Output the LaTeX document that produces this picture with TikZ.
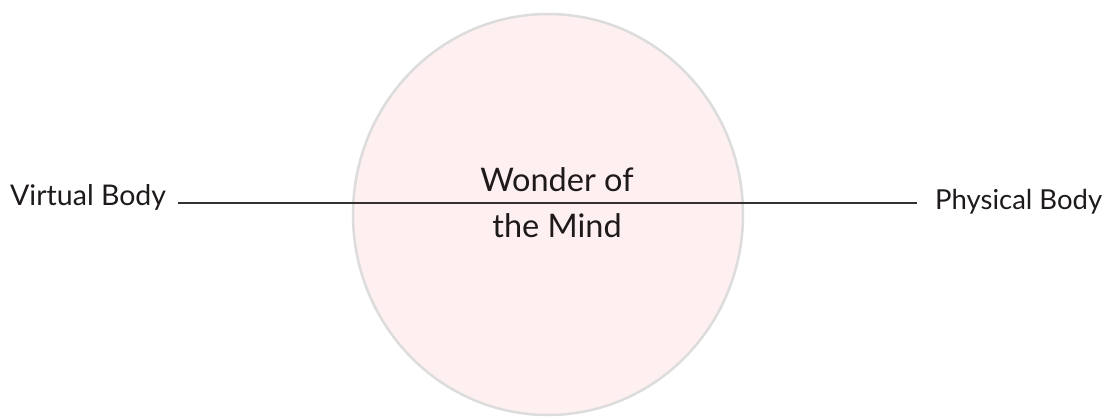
\documentclass[tikz,border=0pt]{standalone}
\usepackage{fontspec}
\setmainfont{Lato}
\usetikzlibrary{positioning,shapes.geometric}
\definecolor{mindpink}{HTML}{FEF0F0}
\definecolor{rimgray}{HTML}{DCDCDC}
\definecolor{inkdark}{HTML}{1E1A1A}
\tikzset{
  lbl/.style={font=\fontsize{28.5}{32}\selectfont,text=inkdark,inner sep=0pt},
  mindlbl/.style={font=\fontsize{32.5}{46}\selectfont,text=inkdark,align=center,inner sep=0pt},
  orb/.style={ellipse,draw=rimgray,fill=mindpink,line width=2.5pt,
    minimum width=390pt,minimum height=401pt,inner sep=0pt},
  link/.style={line width=1.6pt,draw=inkdark!90},
}

\begin{document}
\begin{tikzpicture}[x=1pt,y=-1pt]
  \useasboundingbox (0,0) rectangle (1119,417);
  % the mind
  \node[orb] (mind) at (548,214.5) {};
  \node[lbl,anchor=base west] (virt) at (10,205) {Virtual Body};
  \node[lbl,anchor=base west,font=\fontsize{27.5}{32}\selectfont] (phys) at (935,209) {Physical Body};
  \coordinate (lineL) at ([xshift=12pt,yshift=2pt]virt.base east);
  \coordinate (lineR) at ([xshift=-18pt,yshift=6pt]phys.base west);
  \draw[link] (lineL) -- (lineR);
  \node[mindlbl] (wonder) at (557,203) {Wonder of\\the Mind};
\end{tikzpicture}
\end{document}
